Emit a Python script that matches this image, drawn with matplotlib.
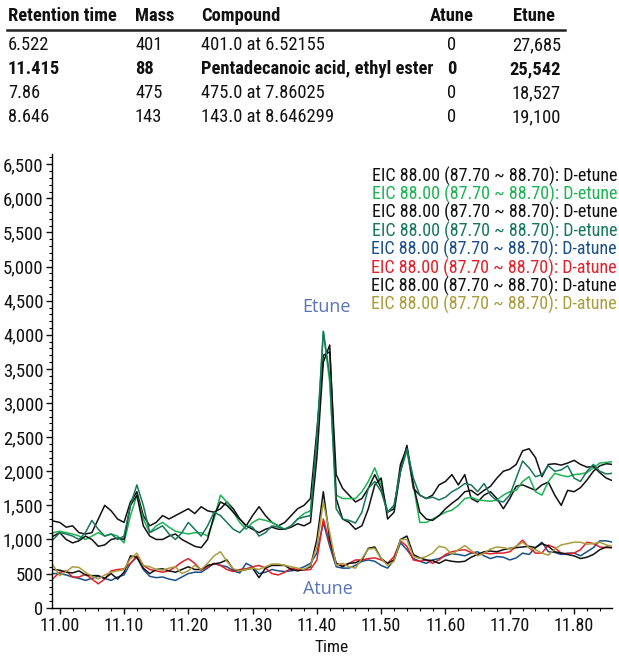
import matplotlib
matplotlib.use('Agg')
import matplotlib.pyplot as plt
from matplotlib.ticker import MultipleLocator, FuncFormatter
from matplotlib.lines import Line2D

plt.rcParams['font.family'] = ['Liberation Sans Narrow', 'Roboto Condensed', 'DejaVu Sans']

# table data
headers = ['Retention time', 'Mass', 'Compound', 'Atune', 'Etune']
ret_times = ['6.522', '11.415', '7.86', '8.646']
masses = ['401', '88', '475', '143']
compounds = ['401.0 at 6.52155', 'Pentadecanoic acid, ethyl ester', '475.0 at 7.86025', '143.0 at 8.646299']
atune_vals = ['0', '0', '0', '0']
etune_vals = ['27,685', '25,542', '18,527', '19,100']

# chromatogram data (time in min, 0.01 step)
time = [round(10.99 + 0.01 * i, 2) for i in range(88)]

etune_black1 = [1270, 1250, 1180, 1200, 1100, 1080, 1100, 1300, 1500, 1420,
                1300, 1250, 1550, 1700, 1350, 1200, 1250, 1350, 1300, 1350,
                1400, 1450, 1380, 1480, 1420, 1400, 1450, 1550, 1450, 1300,
                1200, 1350, 1480, 1350, 1250, 1200, 1250, 1350, 1450, 1500,
                1600, 2600, 3700, 3750, 1950, 1750, 1650, 1550, 1600, 1750,
                1950, 1750, 1400, 1450, 2100, 2350, 1750, 1650, 1600, 1650,
                1800, 1850, 1950, 1800, 1950, 1600, 1550, 1650, 1700, 1600,
                1450, 1600, 1780, 1800, 1760, 1720, 1800, 1840, 1650, 1500,
                1720, 1700, 1760, 1870, 2000, 2080, 2110, 2100]
etune_green = [1100, 1120, 1100, 1080, 1050, 1000, 1050, 1100, 1050, 1080,
               1050, 950, 1350, 1650, 1300, 1100, 1200, 1250, 1180, 1120,
               1100, 1080, 1100, 1100, 1050, 1300, 1650, 1550, 1400, 1250,
               1150, 1250, 1300, 1280, 1250, 1200, 1150, 1200, 1300, 1380,
               1420, 2400, 4050, 3300, 1650, 1600, 1600, 1600, 1700, 1850,
               2050, 1800, 1400, 1500, 2000, 2300, 1800, 1250, 1250, 1300,
               1350, 1400, 1430, 1500, 1600, 1620, 1580, 1570, 1560, 1580,
               1650, 1700, 1720, 1850, 1920, 1700, 1650, 1850, 1970, 1940,
               1920, 1950, 1960, 1980, 2050, 2120, 2130, 2140]
etune_black2 = [1050, 1100, 1000, 950, 980, 1050, 1000, 900, 920, 1000,
                1020, 1000, 1500, 1650, 1200, 1050, 1000, 1000, 1050, 1080,
                1000, 950, 900, 880, 1000, 1350, 1550, 1500, 1400, 1300,
                1200, 1150, 1100, 1150, 1180, 1150, 1150, 1180, 1230, 1200,
                1250, 2200, 3600, 3850, 1600, 1300, 1250, 1150, 1200, 1450,
                1800, 1900, 1300, 1400, 2000, 2380, 1800, 1400, 1300, 1280,
                1350, 1450, 1530, 1600, 1700, 1720, 1650, 1720, 1780, 1900,
                2000, 2030, 2100, 2300, 2330, 2200, 1920, 2100, 2110, 2090,
                2120, 2160, 2100, 2060, 2070, 1980, 1900, 1860]
etune_teal = [1000, 1100, 1080, 1050, 1000, 1100, 1280, 1150, 1050, 1080,
              1000, 1050, 1500, 1800, 1500, 1100, 1150, 1200, 1080, 1000,
              1100, 1250, 1150, 1050, 1200, 1400, 1350, 1250, 1150, 1100,
              1200, 1180, 1050, 1100, 1200, 1180, 1150, 1200, 1300, 1330,
              1350, 2500, 4050, 3400, 1450, 1300, 1280, 1240, 1400, 1750,
              1850, 1700, 1400, 1500, 2000, 2330, 1900, 1650, 1600, 1620,
              1580, 1620, 1700, 1750, 1820, 1800, 1700, 1820, 1650, 1570,
              1550, 1650, 1900, 2150, 2050, 1920, 1950, 2080, 2000, 2020,
              2080, 1900, 1850, 2000, 2100, 2000, 1960, 1970]
atune_blue = [500, 500, 480, 450, 430, 400, 430, 460, 430, 400,
              450, 480, 650, 740, 560, 460, 440, 450, 420, 400,
              450, 500, 520, 520, 580, 650, 620, 600, 540, 510,
              650, 600, 500, 520, 560, 540, 530, 540, 560, 600,
              650, 800, 1250, 900, 600, 580, 580, 620, 680, 700,
              680, 620, 580, 700, 950, 850, 720, 680, 650, 700,
              720, 760, 790, 780, 760, 800, 820, 760, 720, 750,
              740, 700, 730, 800, 780, 880, 960, 820, 810, 780,
              800, 800, 760, 820, 880, 980, 980, 960]
atune_red = [430, 520, 540, 450, 450, 490, 420, 350, 420, 540,
             560, 570, 650, 760, 620, 560, 540, 520, 540, 600,
             670, 720, 650, 550, 600, 650, 620, 560, 530, 560,
             570, 600, 620, 580, 500, 480, 520, 580, 560, 550,
             560, 700, 1300, 950, 650, 620, 650, 700, 700, 720,
             730, 700, 650, 750, 980, 900, 700, 680, 700, 650,
             700, 780, 820, 840, 850, 810, 780, 800, 790, 800,
             800, 820, 900, 990, 880, 800, 800, 920, 880, 800,
             790, 800, 850, 960, 940, 890, 880, 880]
atune_black = [560, 550, 520, 510, 540, 480, 470, 470, 430, 500,
               420, 520, 760, 740, 580, 500, 560, 570, 540, 520,
               560, 600, 560, 560, 620, 640, 660, 700, 560, 540,
               560, 580, 440, 580, 620, 620, 620, 560, 540, 560,
               600, 1000, 1700, 1000, 650, 600, 650, 660, 700, 870,
               890, 720, 650, 700, 1000, 1050, 780, 730, 700, 690,
               650, 700, 680, 670, 680, 740, 780, 820, 830, 820,
               850, 870, 880, 890, 900, 880, 940, 900, 820, 800,
               780, 760, 720, 740, 780, 850, 890, 880]
atune_olive = [620, 470, 530, 600, 590, 520, 460, 420, 480, 520,
               540, 560, 720, 800, 620, 600, 560, 550, 580, 600,
               500, 540, 620, 560, 650, 760, 820, 680, 570, 540,
               560, 580, 560, 600, 640, 640, 620, 600, 580, 560,
               620, 900, 1550, 1100, 620, 650, 600, 580, 720, 860,
               870, 720, 620, 680, 1000, 1000, 750, 720, 750, 800,
               900, 880, 780, 850, 910, 840, 760, 800, 860, 890,
               880, 860, 900, 960, 880, 850, 800, 770, 860, 920,
               940, 960, 960, 930, 940, 960, 920, 900]

series = [etune_black1, etune_green, etune_black2, etune_teal,
          atune_blue, atune_red, atune_black, atune_olive]
colors = ['#111111', '#1db353', '#111111', '#16775c',
          '#1a4f8a', '#e3202a', '#111111', '#ab9c3c']
legend_labels = ['EIC 88.00 (87.70 ~ 88.70): D-etune'] * 4 + ['EIC 88.00 (87.70 ~ 88.70): D-atune'] * 4

W, H = 619, 657
fig = plt.figure(figsize=(W / 100, H / 100), dpi=100)

def fx(px):
    return px / W

def fy(py):
    return 1 - py / H

# table
col_x = [8, 135, 201, 430, 513]
for x, h in zip(col_x, headers):
    fig.text(fx(x), fy(16), h, fontsize=13.3, fontweight='bold', va='center', ha='left', color='#111111')
fig.add_artist(Line2D([fx(7), fx(565)], [fy(30), fy(30)], color='#222222', lw=1.8, transform=fig.transFigure))
row_y = [45, 69, 93, 117]
for i in range(4):
    fw = 'bold' if i == 1 else 'normal'
    for x, v in zip([8, 135, 201, 447], [ret_times[i], masses[i], compounds[i], atune_vals[i]]):
        fig.text(fx(x), fy(row_y[i]), v, fontsize=13.3, fontweight=fw, va='center', ha='left', color='#111111')
    fig.text(fx(561), fy(row_y[i]), etune_vals[i], fontsize=13.3, fontweight=fw, va='center', ha='right', color='#111111')

# chart
ax = fig.add_axes([fx(52), 1 - 607.7 / H, fx(612) - fx(52), (607.7 - 154) / H])
for s, c in zip(series, colors):
    ax.plot(time, s, color=c, lw=1.1)

ax.set_xlim(10.988, 11.859)
ax.set_ylim(0, 6650)
ax.xaxis.set_major_locator(MultipleLocator(0.1))
ax.xaxis.set_minor_locator(MultipleLocator(0.02))
ax.yaxis.set_major_locator(MultipleLocator(500))
ax.yaxis.set_minor_locator(MultipleLocator(100))
ax.xaxis.set_major_formatter(FuncFormatter(lambda v, p: f'{v:.2f}'))
ax.yaxis.set_major_formatter(FuncFormatter(lambda v, p: f'{int(v):,}'))
ax.spines['top'].set_visible(False)
ax.spines['right'].set_visible(False)
ax.spines['left'].set_linewidth(1.0)
ax.spines['bottom'].set_linewidth(1.0)
ax.tick_params(axis='both', which='major', direction='out', length=4, width=1, colors='#111111')
ax.tick_params(axis='x', which='major', labelsize=13, pad=3)
ax.tick_params(axis='y', which='major', labelsize=13.5, pad=2)
ax.tick_params(axis='both', which='minor', direction='out', length=2, width=0.8)
ax.set_xlabel('Time', fontsize=12.5, labelpad=3, color='#111111')

# legend as coloured text lines
for i, (lab, c) in enumerate(zip(legend_labels, colors)):
    fig.text(fx(617), fy(176 + 18.4 * i), lab, fontsize=13, color=c, ha='right', va='center')

fig.text(fx(327), fy(307), 'Etune', fontsize=13, color='#5874b8', ha='center', va='center', family=['Open Sans', 'DejaVu Sans'])
fig.text(fx(328), fy(589), 'Atune', fontsize=13, color='#5874b8', ha='center', va='center', family=['Open Sans', 'DejaVu Sans'])

fig.savefig('out.png', dpi=100)
